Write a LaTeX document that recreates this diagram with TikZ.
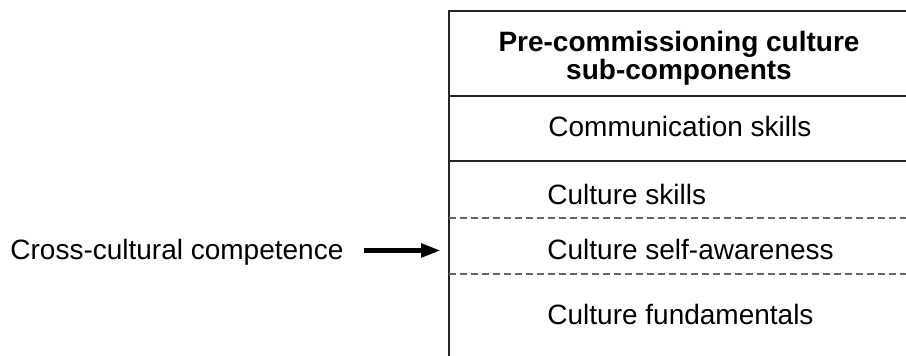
\documentclass[tikz,border=0pt]{standalone}
\usepackage{fontspec}
\setmainfont{Liberation Sans}
\usetikzlibrary{arrows.meta, positioning}

\tikzset{
  cell/.style={anchor=base west, inner sep=0pt, font=\fontsize{14}{13}\selectfont},
  rule/.style={line width=0.9pt, black!85},
  subrule/.style={line width=0.8pt, black!60, dash pattern=on 3.5pt off 2pt},
  bigarrow/.style={line width=2.7pt, -{Triangle[length=10pt, width=6.5pt]}}
}

\begin{document}
\begin{tikzpicture}[x=0.5pt, y=-0.5pt]
  \useasboundingbox (0,0) rectangle (906,356);
  % table frame
  \draw[rule] (906,11) -- (449,11) -- (449,356);
  \draw[rule] (449,96) -- (906,96);
  \draw[rule] (449,161) -- (906,161);
  \draw[subrule] (449,218) -- (906,218);
  \draw[subrule] (449,274) -- (906,274);
  % cells
  \node[cell, anchor=base, align=center, font=\fontsize{14}{13}\selectfont\bfseries] (title) at (679,80)
    {Pre-commissioning culture\\sub-components};
  \node[cell] (comm) at (548,137) {Communication skills};
  \node[cell] (skills) at (547,205) {Culture skills};
  \node[cell] (selfaw) at (547,260) {Culture self-awareness};
  \node[cell] (fund) at (547,325) {Culture fundamentals};
  % competence
  \node[cell] (ccc) at (10,260) {Cross-cultural competence};
  \coordinate (cccstart) at (364,250.5);
  \coordinate (cccend) at (441,250.5);
  \draw[bigarrow] (cccstart) -- (cccend);
\end{tikzpicture}
\end{document}
